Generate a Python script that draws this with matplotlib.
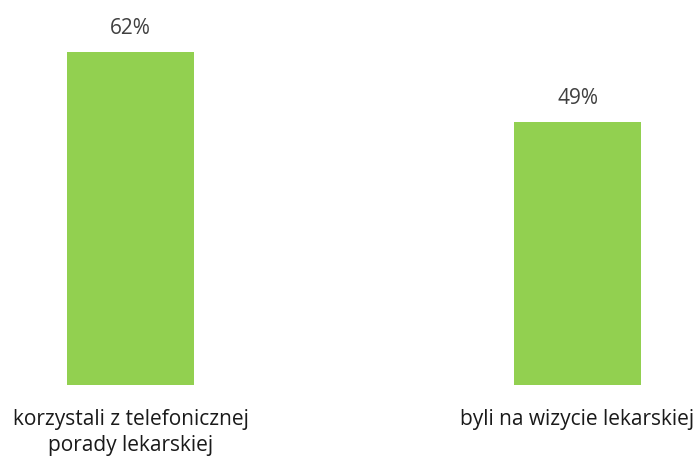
import matplotlib
matplotlib.use("Agg")
import matplotlib.pyplot as plt

categories = ["korzystali z telefonicznej\nporady lekarskiej", "byli na wizycie lekarskiej"]
values = [62, 49]
value_labels = ["62%", "49%"]

W, H = 697, 457
fig = plt.figure(figsize=(W / 100, H / 100), dpi=100)
bottom_px = 385.3
ax = fig.add_axes([0, (H - bottom_px) / H, 1, bottom_px / H])
spacing = 447.0
c0 = 130.5
ax.set_xlim((0 - c0) / spacing, (W - c0) / spacing)
ax.set_ylim(0, 62 * bottom_px / (bottom_px - 51.7))

px2pt = 72 / 100
x = list(range(len(values)))
ax.bar(x, values, width=127 / spacing, color="#92d050")
for xi, v, lab in zip(x, values, value_labels):
    ax.annotate(lab, (xi, v), xytext=(0, 18 * px2pt), textcoords="offset points",
                ha="center", va="baseline", fontsize=15, color="#404040",
                family="Open Sans")
for xi, cat in zip(x, categories):
    for i, line in enumerate(cat.split("\n")):
        ax.annotate(line, (xi, 0), xytext=(0, -(40 + 25.5 * i) * px2pt),
                    textcoords="offset points", ha="center", va="baseline",
                    fontsize=15, color="#1a1a1a", family="Open Sans")
ax.axis("off")
fig.savefig("out.png", dpi=100)
